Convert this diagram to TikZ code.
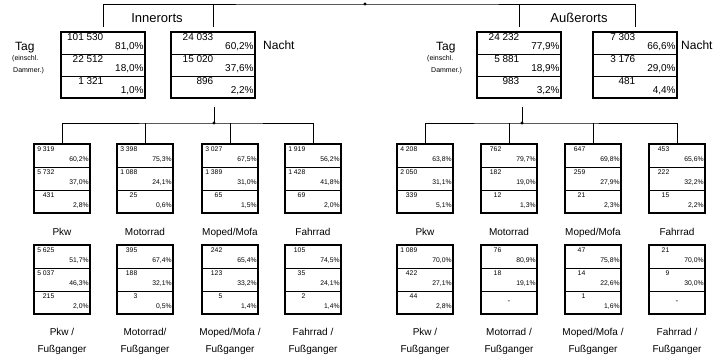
\documentclass[tikz,border=0pt]{standalone}
\usepackage{fontspec}
\setmainfont{Liberation Sans}
\usetikzlibrary{positioning}

\newcommand{\datenbox}[9]{%
  \node[#2] (#1-1) at (#3) {};
  \node[#2,below=0pt of #1-1] (#1-2) {};
  \node[#2,below=0pt of #1-2] (#1-3) {};
  \draw[rahmen] (#1-1.north west) rectangle (#1-3.south east);
  \node[zahl,#2zahl] (#1-1z) at (#1-1.north west) {#4};
  \node[anteil,#2anteil] (#1-1a) at (#1-1.south east) {#5};
  \node[zahl,#2zahl] (#1-2z) at (#1-2.north west) {#6};
  \node[anteil,#2anteil] (#1-2a) at (#1-2.south east) {#7};
  \node[zahl,#2zahl] (#1-3z) at (#1-3.north west) {#8};
  \node[anteil,#2anteil] (#1-3a) at (#1-3.south east) {#9};
}

\begin{document}
\begin{tikzpicture}[x=1pt,y=-1pt,>=stealth,
  linie/.style={line width=0.9pt},
  rahmen/.style={line width=1.5pt},
  gross/.style={draw,line width=0.8pt,minimum width=84pt,minimum height=22pt,inner sep=0pt,outer sep=0pt},
  klein/.style={draw,line width=0.7pt,minimum width=56pt,minimum height=23pt,inner sep=0pt,outer sep=0pt},
  zahl/.style={anchor=north east,inner sep=1.5pt},
  anteil/.style={anchor=south east,inner sep=1.2pt},
  grosszahl/.style={font=\fontsize{10}{12}\selectfont,xshift=44pt},
  grossanteil/.style={font=\fontsize{10}{12}\selectfont,yshift=2pt},
  kleinzahl/.style={font=\fontsize{6.8}{7}\selectfont,xshift=22pt,yshift=-1pt},
  kleinanteil/.style={font=\fontsize{6.8}{7}\selectfont,yshift=3pt},
  titel/.style={font=\fontsize{13}{15}\selectfont},
  tagtext/.style={font=\fontsize{12}{14}\selectfont,anchor=west,inner sep=0pt},
  klammer/.style={font=\fontsize{7}{8}\selectfont,anchor=west,inner sep=0pt},
  art/.style={font=\fontsize{10}{17}\selectfont,align=center,anchor=north,inner sep=0pt}]
\useasboundingbox (0,0) rectangle (719,355);

\datenbox{inTag}{gross}{103,43}{101 530}{81,0\%}{22 512}{18,0\%}{1 321}{1,0\%}
\datenbox{inNacht}{gross}{213,43}{24 033}{60,2\%}{15 020}{37,6\%}{896}{2,2\%}
\datenbox{ausTag}{gross}{519,43}{24 232}{77,9\%}{5 881}{18,9\%}{983}{3,2\%}
\datenbox{ausNacht}{gross}{635,43}{7 303}{66,6\%}{3 176}{29,0\%}{481}{4,4\%}

\node[titel] (inOrt) at (157,18) {Innerorts};
\node[titel] (ausOrt) at (579,18) {Außerorts};
\node[tagtext] (inTagL) at (15,48) {Tag};
\node[klammer] (inTagK) at (12,59) {(einschl.};
\node[klammer] (inTagD) at (13,71) {Dammer.)};
\node[tagtext] (inNachtL) at (263,45) {Nacht};
\node[tagtext] (ausTagL) at (436,48) {Tag};
\node[klammer] (ausTagK) at (427,59) {(einschl.};
\node[klammer] (ausTagD) at (431,71) {Dammer.)};
\node[tagtext] (ausNachtL) at (681,45) {Nacht};

\coordinate (oben) at (365,4);
\draw[linie] ([yshift=5pt]inTag-1.north) |- (oben) -| ([yshift=5pt]ausNacht-1.north);
\draw[linie] ([yshift=5pt]inNacht-1.north) -- (inNacht-1.north |- oben);
\draw[linie] ([yshift=5pt]ausTag-1.north) -- (ausTag-1.north |- oben);
\fill (oben) circle (1.6pt);

\datenbox{pkwI}{klein}{62,155.5}{9 319}{60,2\%}{5 732}{37,0\%}{431}{2,8\%}
\datenbox{motI}{klein}{145,155.5}{3 398}{75,3\%}{1 088}{24,1\%}{25}{0,6\%}
\datenbox{mopI}{klein}{230,155.5}{3 027}{67,5\%}{1 389}{31,0\%}{65}{1,5\%}
\datenbox{fahI}{klein}{313,155.5}{1 919}{56,2\%}{1 428}{41,8\%}{69}{2,0\%}
\datenbox{pkwA}{klein}{425,155.5}{4 208}{63,8\%}{2 050}{31,1\%}{339}{5,1\%}
\datenbox{motA}{klein}{509,155.5}{762}{79,7\%}{182}{19,0\%}{12}{1,3\%}
\datenbox{mopA}{klein}{593,155.5}{647}{69,8\%}{259}{27,9\%}{21}{2,3\%}
\datenbox{fahA}{klein}{677,155.5}{453}{65,6\%}{222}{32,2\%}{15}{2,2\%}

\coordinate (abI) at (214,107);
\coordinate (knotenI) at (214,123);
\draw[linie] (abI) -- (knotenI);
\draw[linie] (pkwI-1.north) |- (knotenI) -| (fahI-1.north);
\draw[linie] (motI-1.north) -- (motI-1.north |- knotenI);
\draw[linie] (mopI-1.north) -- (mopI-1.north |- knotenI);
\fill (knotenI) circle (1.6pt);

\coordinate (abA) at (522,107);
\coordinate (knotenA) at (522,123);
\draw[linie] (abA) -- (knotenA);
\draw[linie] (pkwA-1.north) |- (knotenA) -| (fahA-1.north);
\draw[linie] (motA-1.north) -- (motA-1.north |- knotenA);
\draw[linie] (mopA-1.north) -- (mopA-1.north |- knotenA);
\fill (knotenA) circle (1.6pt);

\node[art,yshift=-15pt] (pkwIL) at (pkwI-3.south) {Pkw};
\node[art,yshift=-15pt] (motIL) at (motI-3.south) {Motorrad};
\node[art,yshift=-15pt] (mopIL) at (mopI-3.south) {Moped/Mofa};
\node[art,yshift=-15pt] (fahIL) at (fahI-3.south) {Fahrrad};
\node[art,yshift=-15pt] (pkwAL) at (pkwA-3.south) {Pkw};
\node[art,yshift=-15pt] (motAL) at (motA-3.south) {Motorrad};
\node[art,yshift=-15pt] (mopAL) at (mopA-3.south) {Moped/Mofa};
\node[art,yshift=-15pt] (fahAL) at (fahA-3.south) {Fahrrad};

\datenbox{pkwFI}{klein}{62,256.5}{5 625}{51,7\%}{5 037}{46,3\%}{215}{2,0\%}
\datenbox{motFI}{klein}{145,256.5}{395}{67,4\%}{188}{32,1\%}{3}{0,5\%}
\datenbox{mopFI}{klein}{230,256.5}{242}{65,4\%}{123}{33,2\%}{5}{1,4\%}
\datenbox{fahFI}{klein}{313,256.5}{105}{74,5\%}{35}{24,1\%}{2}{1,4\%}
\datenbox{pkwFA}{klein}{425,256.5}{1 089}{70,0\%}{422}{27,1\%}{44}{2,8\%}
\datenbox{motFA}{klein}{509,256.5}{76}{80,9\%}{18}{19,1\%}{}{}
\datenbox{mopFA}{klein}{593,256.5}{47}{75,8\%}{14}{22,6\%}{1}{1,6\%}
\datenbox{fahFA}{klein}{677,256.5}{21}{70,0\%}{9}{30,0\%}{}{}
\node[font=\fontsize{8}{9}\selectfont] (motFA-3s) at (motFA-3) {-};
\node[font=\fontsize{8}{9}\selectfont] (fahFA-3s) at (fahFA-3) {-};

\node[art,yshift=-14pt] (pkwFIL) at (pkwFI-3.south) {Pkw /\\Fußganger};
\node[art,yshift=-14pt] (motFIL) at (motFI-3.south) {Motorrad/\\Fußganger};
\node[art,yshift=-14pt] (mopFIL) at (mopFI-3.south) {Moped/Mofa /\\Fußganger};
\node[art,yshift=-14pt] (fahFIL) at (fahFI-3.south) {Fahrrad /\\Fußganger};
\node[art,yshift=-14pt] (pkwFAL) at (pkwFA-3.south) {Pkw /\\Fußganger};
\node[art,yshift=-14pt] (motFAL) at (motFA-3.south) {Motorrad /\\Fußganger};
\node[art,yshift=-14pt] (mopFAL) at (mopFA-3.south) {Moped/Mofa /\\Fußganger};
\node[art,yshift=-14pt] (fahFAL) at (fahFA-3.south) {Fahrrad /\\Fußganger};
\end{tikzpicture}
\end{document}
